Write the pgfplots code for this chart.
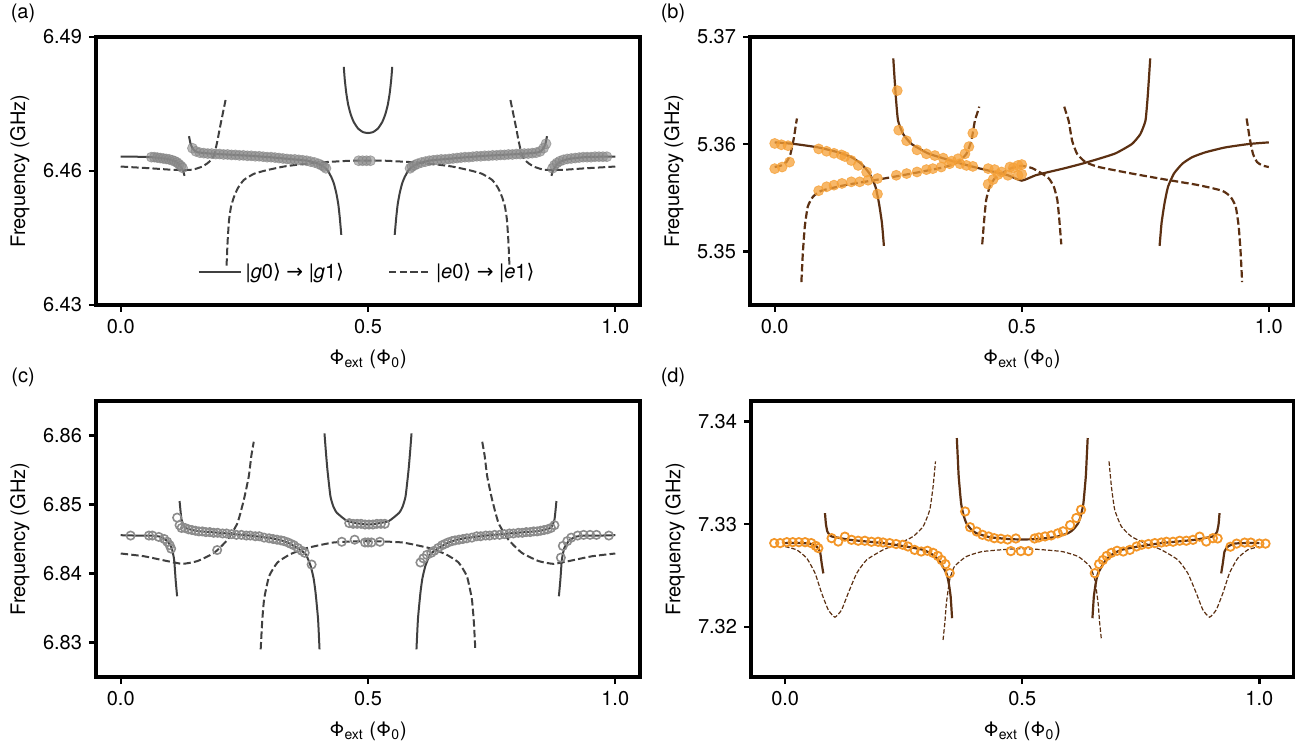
\documentclass[border=0pt]{standalone}
\usepackage{fontspec}
\setmainfont{TeX Gyre Heros}
\newfontfamily\dv{DejaVu Sans}
\usepackage{pgfplots}
\pgfplotsset{compat=1.18}
\definecolor{lg}{RGB}{64,64,64}
\definecolor{mb}{RGB}{92,48,18}
\definecolor{orf}{RGB}{245,160,55}
\definecolor{oro}{RGB}{243,150,40}
\pgfplotsset{
 panel/.style={
  scale only axis, width=272pt,
  xmin=-0.05, xmax=1.05,
  axis line style={line width=1.6pt},
  every tick/.style={black, line width=1.2pt},
  major tick length=3.5pt,
  tick align=outside,
  xtick pos=bottom, ytick pos=left,
  xtick={0,0.5,1}, xticklabels={0.0,0.5,1.0},
  tick label style={font=\fontsize{10}{12}\selectfont},
  label style={font=\fontsize{10}{12}\selectfont},
  xlabel={Φ\textsubscript{ext} (Φ\textsubscript{0})},
  ylabel={Frequency (GHz)},
  every axis y label/.style={at={(axis description cs:-0.14,0.5)}, rotate=90, anchor=center},
  every axis x label/.style={at={(axis description cs:0.5,0)}, yshift=-27pt, anchor=center},
 },
 gs/.style={lg, line width=1pt, smooth, tension=0.3, forget plot, mark=none},
 gd/.style={lg, line width=1pt, smooth, tension=0.3, forget plot, mark=none, dash pattern=on 3.7pt off 1.6pt},
 bs/.style={mb, line width=1.1pt, smooth, tension=0.3, forget plot, mark=none},
 bd/.style={mb, line width=1.1pt, smooth, tension=0.3, forget plot, mark=none, dash pattern=on 3.7pt off 1.6pt},
 bdt/.style={mb, line width=0.6pt, smooth, tension=0.3, forget plot, mark=none, dash pattern=on 2.2pt off 1pt},
 mga/.style={only marks, forget plot, mark=*, mark size=2.5pt, mark options={fill=black!45, draw=black!50, opacity=0.6}},
 mob/.style={only marks, forget plot, mark=*, mark size=2.5pt, mark options={fill=orf, draw=orf, opacity=0.75}},
 mgc/.style={only marks, forget plot, mark=o, mark size=2.1pt, mark options={draw=black!45, line width=0.8pt}},
 mod/.style={only marks, forget plot, mark=o, mark size=2.1pt, mark options={draw=oro, line width=0.9pt}},
}
\begin{document}
\begin{tikzpicture}
\useasboundingbox (0,0) rectangle (648pt,372.5pt);
\node[font=\fontsize{10}{12}\selectfont] at (11.5pt,366pt) {(a)};
\node[font=\fontsize{10}{12}\selectfont] at (336.5pt,366pt) {(b)};
\node[font=\fontsize{10}{12}\selectfont] at (11.5pt,184pt) {(c)};
\node[font=\fontsize{10}{12}\selectfont] at (336.5pt,184pt) {(d)};

% ---------------- (a)
\begin{axis}[panel, at={(48pt,220pt)}, anchor=south west, height=134pt,
  ymin=6.43, ymax=6.49, ytick={6.43,6.46,6.49}, yticklabels={6.43,6.46,6.49},
  legend style={at={(0.5,0.123)}, anchor=center, draw=none, fill=none, font=\fontsize{10}{12}\selectfont,
    /tikz/every even column/.append style={column sep=20pt}},
  legend columns=2,
  legend image code/.code={\draw[#1] (0pt,0pt) -- (21pt,0pt);}]
\addplot[mga] coordinates {(0.062,6.4631)(0.068,6.4631)(0.074,6.4630)(0.080,6.4629)(0.086,6.4628)(0.092,6.4627)(0.098,6.4626)(0.104,6.4624)(0.109,6.4622)(0.114,6.4619)(0.118,6.4615)(0.122,6.4611)(0.125,6.4607)
(0.145,6.4651)(0.152,6.4644)(0.160,6.4641)(0.168,6.4640)(0.176,6.4639)(0.184,6.4639)(0.192,6.4638)(0.200,6.4638)(0.208,6.4637)(0.216,6.4637)(0.224,6.4636)(0.232,6.4636)(0.240,6.4635)(0.248,6.4635)(0.256,6.4634)(0.264,6.4634)(0.272,6.4633)(0.280,6.4633)(0.288,6.4632)(0.296,6.4631)(0.304,6.4631)(0.312,6.4630)(0.320,6.4629)(0.328,6.4628)(0.336,6.4627)(0.344,6.4626)(0.352,6.4626)(0.360,6.4625)(0.368,6.4624)(0.376,6.4623)(0.384,6.4621)(0.392,6.4619)(0.400,6.4616)(0.406,6.4613)(0.411,6.4610)(0.415,6.4606)
(0.481,6.4623)(0.489,6.4623)(0.497,6.4623)(0.505,6.4623)
(0.585,6.4606)(0.589,6.4610)(0.594,6.4613)(0.600,6.4616)(0.608,6.4619)(0.616,6.4621)(0.624,6.4623)(0.632,6.4624)(0.640,6.4625)(0.648,6.4626)(0.656,6.4626)(0.664,6.4627)(0.672,6.4628)(0.680,6.4629)(0.688,6.4630)(0.696,6.4631)(0.704,6.4631)(0.712,6.4632)(0.720,6.4633)(0.728,6.4633)(0.736,6.4634)(0.744,6.4634)(0.752,6.4635)(0.760,6.4635)(0.768,6.4636)(0.776,6.4636)(0.784,6.4637)(0.792,6.4637)(0.800,6.4638)(0.808,6.4638)(0.816,6.4639)(0.824,6.4639)(0.832,6.4640)(0.840,6.4641)(0.848,6.4644)(0.855,6.4651)(0.860,6.4661)
(0.873,6.4606)(0.877,6.4613)(0.882,6.4618)(0.888,6.4622)(0.895,6.4625)(0.903,6.4627)(0.911,6.4628)(0.919,6.4629)(0.927,6.4630)(0.935,6.4631)(0.943,6.4631)(0.951,6.4631)(0.959,6.4632)(0.967,6.4632)(0.975,6.4632)(0.983,6.4632)};
\addplot[gs] coordinates {(0,6.4632)(0.03,6.4632)(0.061,6.4631)(0.08,6.4629)(0.094,6.4627)(0.104,6.4624)(0.111,6.4621)(0.117,6.4616)(0.121,6.4610)(0.125,6.4603)(0.127,6.4598)(0.129,6.4589)};
\addplot[gs] coordinates {(0.871,6.4589)(0.873,6.4598)(0.875,6.4603)(0.879,6.4610)(0.883,6.4616)(0.889,6.4621)(0.896,6.4624)(0.906,6.4627)(0.92,6.4629)(0.939,6.4631)(0.97,6.4632)(1,6.4632)};
\addplot[gs] coordinates {(0.138,6.4678)(0.141,6.4662)(0.145,6.4651)(0.150,6.4645)(0.155,6.4642)(0.17,6.4640)(0.195,6.4638)(0.23,6.4636)(0.263,6.4634)(0.3,6.4631)(0.33,6.4628)(0.36,6.4625)(0.377,6.4623)(0.397,6.4617)(0.41,6.4610)(0.418,6.4602)(0.426,6.4586)(0.431,6.4572)(0.436,6.4550)(0.44,6.4525)(0.443,6.4495)(0.446,6.4457)};
\addplot[gs] coordinates {(0.554,6.4457)(0.557,6.4495)(0.56,6.4525)(0.564,6.4550)(0.569,6.4572)(0.574,6.4586)(0.582,6.4602)(0.59,6.4610)(0.603,6.4617)(0.623,6.4623)(0.64,6.4625)(0.67,6.4628)(0.7,6.4631)(0.737,6.4634)(0.77,6.4636)(0.805,6.4638)(0.83,6.4640)(0.845,6.4642)(0.85,6.4645)(0.855,6.4651)(0.859,6.4662)(0.862,6.4678)};
\addplot[gs] coordinates {(0.451,6.4833)(0.453,6.4805)(0.456,6.4775)(0.46,6.4748)(0.465,6.4727)(0.471,6.4710)(0.48,6.4695)(0.49,6.4687)(0.5,6.4685)(0.51,6.4687)(0.52,6.4695)(0.529,6.4710)(0.535,6.4727)(0.54,6.4748)(0.544,6.4775)(0.547,6.4805)(0.549,6.4833)};
\addplot[gd] coordinates {(0,6.4610)(0.03,6.4608)(0.061,6.4606)(0.1,6.4603)(0.128,6.4602)(0.145,6.4603)(0.155,6.4606)(0.165,6.4610)(0.175,6.4617)(0.183,6.4625)(0.189,6.4636)(0.195,6.4665)(0.202,6.4705)(0.207,6.4732)(0.212,6.4759)};
\addplot[gd] coordinates {(0.788,6.4759)(0.793,6.4732)(0.798,6.4705)(0.805,6.4665)(0.811,6.4636)(0.817,6.4625)(0.825,6.4617)(0.835,6.4610)(0.845,6.4606)(0.855,6.4603)(0.872,6.4602)(0.9,6.4603)(0.939,6.4606)(0.97,6.4608)(1,6.4610)};
\addplot[gd] coordinates {(0.214,6.4388)(0.216,6.4440)(0.219,6.4490)(0.223,6.4520)(0.229,6.4542)(0.237,6.4562)(0.249,6.4580)(0.27,6.4594)(0.296,6.4602)(0.33,6.4610)(0.364,6.4615)(0.4,6.4619)(0.431,6.4621)(0.465,6.4623)(0.5,6.4623)(0.535,6.4623)(0.569,6.4621)(0.6,6.4619)(0.636,6.4615)(0.67,6.4610)(0.704,6.4602)(0.73,6.4594)(0.751,6.4580)(0.763,6.4562)(0.771,6.4542)(0.777,6.4520)(0.781,6.4490)(0.784,6.4440)(0.786,6.4388)};
\addlegendimage{lg, line width=1pt}
\addlegendentry{|\textit{g}0{\dv ⟩} {\dv →} |\textit{g}1{\dv ⟩}}
\addlegendimage{lg, line width=1pt, dash pattern=on 3.7pt off 1.6pt}
\addlegendentry{|\textit{e}0{\dv ⟩} {\dv →} |\textit{e}1{\dv ⟩}}
\end{axis}

% ---------------- (b)
\begin{axis}[panel, at={(375pt,220pt)}, anchor=south west, width=271.75pt, height=134pt,
  ymin=5.345, ymax=5.37, ytick={5.35,5.36,5.37}, yticklabels={5.35,5.36,5.37}]
\addplot[mob] coordinates {(0,5.36007)(0.0135,5.35995)(0.027,5.35986)(0,5.35772)(0.015,5.35787)(0.030,5.35833)
(0.089,5.35956)(0.105,5.35934)(0.12,5.35915)(0.135,5.359)(0.142,5.35885)(0.155,5.35848)(0.169,5.35802)(0.186,5.3574)(0.208,5.35535)
(0.089,5.35566)(0.105,5.35603)(0.12,5.35618)(0.136,5.35634)(0.155,5.35649)(0.172,5.35649)(0.189,5.35664)(0.208,5.3568)(0.246,5.3571)(0.267,5.35726)(0.288,5.35741)(0.307,5.35763)(0.32,5.35772)(0.337,5.35787)(0.354,5.35818)(0.371,5.35864)(0.385,5.3591)(0.393,5.35977)(0.401,5.36103)
(0.248,5.3650)(0.251,5.36131)(0.267,5.36032)(0.288,5.35947)(0.307,5.3591)(0.324,5.35894)(0.341,5.3587)(0.358,5.35842)(0.375,5.35818)(0.388,5.35802)(0.401,5.35793)
(0.432,5.35772)(0.445,5.35763)(0.459,5.35741)(0.472,5.3571)(0.476,5.35787)(0.4925,5.35802)(0.4925,5.3571)(0.432,5.35627)(0.442,5.35671)(0.452,5.35717)(0.5,5.3581)(0.5,5.3572)(0.483,5.3578)};
\addplot[bs] coordinates {(0,5.36017)(0.04,5.36002)(0.088,5.3597)(0.128,5.35925)(0.155,5.35879)(0.175,5.35818)(0.192,5.35726)(0.204,5.35603)(0.211,5.3545)(0.217,5.35266)(0.221,5.35051)};
\addplot[bs] coordinates {(0.779,5.35051)(0.783,5.35266)(0.789,5.3545)(0.796,5.35603)(0.808,5.35726)(0.825,5.35818)(0.845,5.35879)(0.872,5.35925)(0.912,5.3597)(0.96,5.36002)(1,5.36017)};
\addplot[bs] coordinates {(0.24,5.3680)(0.2425,5.3662)(0.2455,5.3642)(0.2496,5.3622)(0.26,5.36094)(0.277,5.36002)(0.31,5.35915)(0.344,5.35864)(0.378,5.35818)(0.412,5.35777)(0.445,5.35741)(0.472,5.3571)(0.49,5.35675)(0.5,5.3566)(0.51,5.35675)(0.528,5.3571)(0.555,5.35741)(0.588,5.35777)(0.622,5.35818)(0.656,5.35864)(0.69,5.35915)(0.723,5.36002)(0.74,5.36094)(0.7504,5.3622)(0.7545,5.3642)(0.7575,5.3662)(0.76,5.3680)};
\addplot[bd] coordinates {(0,5.35787)(0.0135,5.35802)(0.0237,5.35833)(0.032,5.3591)(0.039,5.36063)(0.0425,5.3617)(0.045,5.3624)};
\addplot[bd] coordinates {(0.955,5.3624)(0.9575,5.3617)(0.961,5.36063)(0.968,5.3591)(0.9763,5.35833)(0.9865,5.35802)(1,5.35787)};
\addplot[bd] coordinates {(0.054,5.34714)(0.057,5.3499)(0.061,5.35235)(0.067,5.35419)(0.0775,5.3551)(0.0945,5.35566)(0.142,5.35618)(0.209,5.3567)(0.277,5.35726)(0.344,5.35787)(0.371,5.35833)(0.388,5.3591)(0.398,5.36032)(0.405,5.36216)(0.41,5.3629)(0.414,5.3635)};
\addplot[bd] coordinates {(0.586,5.3635)(0.59,5.3629)(0.595,5.36216)(0.602,5.36032)(0.612,5.3591)(0.629,5.35833)(0.656,5.35787)(0.723,5.35726)(0.791,5.3567)(0.858,5.35618)(0.9055,5.35566)(0.9225,5.3551)(0.933,5.35419)(0.939,5.35235)(0.943,5.3499)(0.946,5.34714)};
\addplot[bd] coordinates {(0.42,5.35066)(0.424,5.35296)(0.428,5.3548)(0.435,5.35603)(0.445,5.3568)(0.459,5.35726)(0.479,5.35777)(0.5,5.35798)(0.521,5.35777)(0.541,5.35726)(0.555,5.3568)(0.565,5.35603)(0.572,5.3548)(0.576,5.35296)(0.58,5.35066)};
\end{axis}

% ---------------- (c)
\begin{axis}[panel, at={(48pt,34pt)}, anchor=south west, height=138pt,
  ymin=6.825, ymax=6.865, ytick={6.83,6.84,6.85,6.86}, yticklabels={6.83,6.84,6.85,6.86}]
\addplot[mgc] coordinates {(0.020,6.8455)(0.057,6.8455)(0.064,6.8455)(0.077,6.8453)(0.088,6.8450)(0.094,6.8446)(0.099,6.8441)(0.102,6.8436)
(0.114,6.8481)(0.119,6.8470)(0.123,6.8466)
(0.130,6.8466)(0.137,6.8464)(0.144,6.8463)(0.151,6.8462)(0.158,6.8461)(0.165,6.8461)(0.172,6.8460)(0.180,6.8460)(0.188,6.8459)(0.196,6.8459)(0.206,6.8458)(0.214,6.8458)(0.224,6.8457)(0.234,6.8456)(0.244,6.8456)(0.254,6.8455)(0.262,6.8455)(0.272,6.8454)(0.280,6.8454)(0.290,6.8452)(0.300,6.8451)(0.308,6.8450)(0.316,6.8449)(0.324,6.8448)(0.330,6.8447)(0.338,6.8445)(0.344,6.8443)(0.350,6.8441)(0.358,6.8437)(0.366,6.8433)(0.372,6.8430)(0.386,6.8413)
(0.195,6.8434)
(0.447,6.8446)(0.473,6.8449)(0.494,6.8445)(0.500,6.8445)(0.507,6.8445)(0.524,6.8446)
(0.462,6.8473)(0.470,6.8472)(0.478,6.8472)(0.486,6.8472)(0.494,6.8471)(0.502,6.8471)(0.510,6.8471)(0.518,6.8472)(0.526,6.8472)(0.534,6.8472)
(0.606,6.8416)(0.612,6.8422)(0.619,6.8427)(0.628,6.8430)(0.634,6.8433)(0.642,6.8437)(0.650,6.8441)(0.656,6.8443)(0.662,6.8445)(0.670,6.8447)(0.676,6.8448)(0.684,6.8449)(0.692,6.8450)(0.700,6.8451)(0.710,6.8452)(0.720,6.8454)(0.728,6.8454)(0.738,6.8455)(0.746,6.8455)(0.756,6.8456)(0.766,6.8456)(0.776,6.8457)(0.786,6.8458)(0.794,6.8458)(0.804,6.8459)(0.812,6.8459)(0.820,6.8460)(0.828,6.8460)(0.835,6.8461)(0.842,6.8461)(0.849,6.8462)(0.856,6.8463)(0.863,6.8464)(0.870,6.8466)(0.877,6.8470)
(0.890,6.8423)(0.894,6.8440)(0.903,6.8447)(0.911,6.8452)(0.924,6.8455)(0.936,6.8456)(0.949,6.8456)(0.962,6.8456)(0.987,6.8455)};
\addplot[gs] coordinates {(0,6.84555)(0.03,6.8455)(0.061,6.8455)(0.081,6.84532)(0.094,6.8447)(0.103,6.8437)(0.108,6.8420)(0.111,6.8391)(0.114,6.8367)};
\addplot[gs] coordinates {(0.886,6.8367)(0.889,6.8391)(0.892,6.8420)(0.897,6.8437)(0.906,6.8447)(0.919,6.84532)(0.939,6.8455)(0.97,6.8455)(1,6.84555)};
\addplot[gs] coordinates {(0.119,6.8505)(0.121,6.8490)(0.123,6.8478)(0.127,6.8470)(0.131,6.8466)(0.145,6.8463)(0.162,6.8461)(0.2,6.8459)(0.229,6.8457)(0.26,6.8455)(0.296,6.8452)(0.32,6.8449)(0.337,6.8445)(0.357,6.8437)(0.374,6.8428)(0.384,6.8411)(0.390,6.8393)(0.394,6.8372)(0.399,6.8334)(0.402,6.8290)};
\addplot[gs] coordinates {(0.598,6.8290)(0.601,6.8334)(0.606,6.8372)(0.61,6.8393)(0.616,6.8411)(0.626,6.8428)(0.643,6.8437)(0.663,6.8445)(0.68,6.8449)(0.704,6.8452)(0.74,6.8455)(0.771,6.8457)(0.8,6.8459)(0.838,6.8461)(0.855,6.8463)(0.869,6.8466)(0.873,6.8470)(0.877,6.8478)(0.879,6.8490)(0.881,6.8505)};
\addplot[gs] coordinates {(0.412,6.8603)(0.415,6.8575)(0.418,6.8550)(0.424,6.8512)(0.430,6.8497)(0.437,6.8488)(0.458,6.8476)(0.485,6.8472)(0.5,6.8471)(0.515,6.8472)(0.542,6.8476)(0.563,6.8488)(0.570,6.8497)(0.576,6.8512)(0.582,6.8550)(0.585,6.8575)(0.588,6.8603)};
\addplot[gd] coordinates {(0,6.8429)(0.047,6.8425)(0.094,6.8418)(0.125,6.8414)(0.155,6.8418)(0.189,6.8430)(0.216,6.8449)(0.236,6.8473)(0.249,6.8507)(0.259,6.8541)(0.264,6.8570)(0.269,6.8591)};
\addplot[gd] coordinates {(0.731,6.8591)(0.736,6.8570)(0.741,6.8541)(0.751,6.8507)(0.764,6.8473)(0.784,6.8449)(0.811,6.8430)(0.845,6.8418)(0.875,6.8414)(0.906,6.8418)(0.953,6.8425)(1,6.8429)};
\addplot[gd] coordinates {(0.283,6.8290)(0.286,6.8330)(0.290,6.8363)(0.300,6.8396)(0.317,6.8416)(0.343,6.8428)(0.377,6.8437)(0.431,6.8445)(0.5,6.8447)(0.569,6.8445)(0.623,6.8437)(0.657,6.8428)(0.683,6.8416)(0.7,6.8396)(0.71,6.8363)(0.714,6.8330)(0.717,6.8290)};
\end{axis}

% ---------------- (d)
\begin{axis}[panel, at={(375.5pt,34pt)}, anchor=south west, width=271.25pt, height=138pt,
  xmin=-0.072, xmax=1.072,
  ymin=7.3151, ymax=7.342, ytick={7.32,7.33,7.34}, yticklabels={7.32,7.33,7.34}]
\addplot[mod] coordinates {(-0.023,7.32815)(-0.0105,7.32815)(0.0035,7.32824)(0.016,7.32824)(0.029,7.32824)(0.042,7.32824)(0.055,7.32815)(0.0645,7.32788)(0.07,7.32766)
(0.098,7.32863)(0.112,7.3283)(0.126,7.32878)(0.14,7.32847)(0.154,7.32838)(0.168,7.32838)(0.182,7.32828)(0.196,7.32828)(0.2065,7.32821)(0.2205,7.32815)(0.234,7.32806)(0.248,7.32799)(0.259,7.32782)(0.273,7.32749)(0.287,7.32733)(0.300,7.3274)(0.312,7.3272)(0.322,7.3269)(0.330,7.3265)(0.338,7.3261)(0.347,7.32522)
(0.3795,7.33123)(0.39,7.3297)(0.404,7.32928)(0.416,7.32896)(0.429,7.3288)(0.441,7.32863)(0.455,7.32857)(0.469,7.3285)(0.4865,7.3286)(0.526,7.3286)(0.535,7.3287)(0.548,7.3288)(0.561,7.3289)(0.575,7.3291)(0.586,7.3293)(0.601,7.3299)(0.614,7.3306)(0.624,7.3314)
(0.476,7.32737)(0.497,7.32737)(0.513,7.32737)
(0.653,7.32522)(0.662,7.3261)(0.670,7.3265)(0.678,7.3269)(0.688,7.3272)(0.700,7.3274)(0.713,7.32733)(0.727,7.32749)(0.741,7.32782)(0.752,7.32799)(0.766,7.32806)(0.7795,7.32815)(0.7935,7.32821)(0.804,7.32828)(0.818,7.32828)(0.832,7.32838)(0.846,7.32838)(0.86,7.32847)(0.874,7.32878)(0.888,7.3283)(0.902,7.32863)(0.912,7.3286)
(0.939,7.3278)(0.952,7.3281)(0.969,7.3282)(0.982,7.3282)(1.0,7.3281)(1.013,7.3281)};
\addplot[bs] coordinates {(0,7.32815)(0.0315,7.32815)(0.0525,7.3281)(0.0665,7.32781)(0.0735,7.32733)(0.077,7.3262)(0.0805,7.3252)};
\addplot[bs] coordinates {(0.9195,7.3252)(0.923,7.3262)(0.9265,7.32733)(0.9335,7.32781)(0.9475,7.3281)(0.9685,7.32815)(1,7.32815)};
\addplot[bs] coordinates {(0.084,7.33107)(0.086,7.3300)(0.089,7.32928)(0.093,7.3290)(0.098,7.3288)(0.1365,7.32847)(0.2065,7.32815)(0.256,7.32781)(0.291,7.32749)(0.312,7.327)(0.326,7.32635)(0.34,7.32522)(0.345,7.32424)(0.349,7.32294)(0.352,7.32083)};
\addplot[bs] coordinates {(0.648,7.32083)(0.651,7.32294)(0.655,7.32424)(0.66,7.32522)(0.674,7.32635)(0.688,7.327)(0.709,7.32749)(0.744,7.32781)(0.7935,7.32815)(0.8635,7.32847)(0.902,7.3288)(0.907,7.3290)(0.911,7.32928)(0.914,7.3300)(0.916,7.33107)};
\addplot[bs] coordinates {(0.362,7.33839)(0.364,7.3365)(0.366,7.33464)(0.371,7.33205)(0.376,7.3309)(0.382,7.3301)(0.392,7.3295)(0.403,7.32912)(0.431,7.32873)(0.473,7.32854)(0.5,7.3285)(0.527,7.32854)(0.569,7.32873)(0.597,7.32912)(0.608,7.3295)(0.618,7.3301)(0.624,7.3309)(0.629,7.33205)(0.634,7.33464)(0.636,7.3365)(0.638,7.33839)};
\addplot[bdt] coordinates {(0,7.32781)(0.0245,7.32749)(0.0455,7.32668)(0.063,7.32522)(0.077,7.32327)(0.091,7.32164)(0.105,7.32093)(0.119,7.32164)(0.133,7.32327)(0.151,7.32522)(0.172,7.32652)(0.2065,7.32749)(0.242,7.32815)(0.27,7.3288)(0.291,7.32977)(0.305,7.3314)(0.312,7.33367)(0.317,7.33611)};
\addplot[bdt] coordinates {(0.683,7.33611)(0.688,7.33367)(0.695,7.3314)(0.709,7.32977)(0.73,7.3288)(0.758,7.32815)(0.7935,7.32749)(0.828,7.32652)(0.849,7.32522)(0.867,7.32327)(0.881,7.32164)(0.895,7.32093)(0.909,7.32164)(0.923,7.32327)(0.937,7.32522)(0.9545,7.32668)(0.9755,7.32749)(1,7.32781)};
\addplot[bdt] coordinates {(0.333,7.31871)(0.337,7.3205)(0.34,7.32229)(0.347,7.32457)(0.357,7.32587)(0.382,7.32684)(0.4165,7.32733)(0.473,7.32756)(0.5,7.3276)(0.527,7.32756)(0.5835,7.32733)(0.618,7.32684)(0.643,7.32587)(0.653,7.32457)(0.66,7.32229)(0.663,7.3205)(0.667,7.31871)};
\end{axis}
\end{tikzpicture}
\end{document}
